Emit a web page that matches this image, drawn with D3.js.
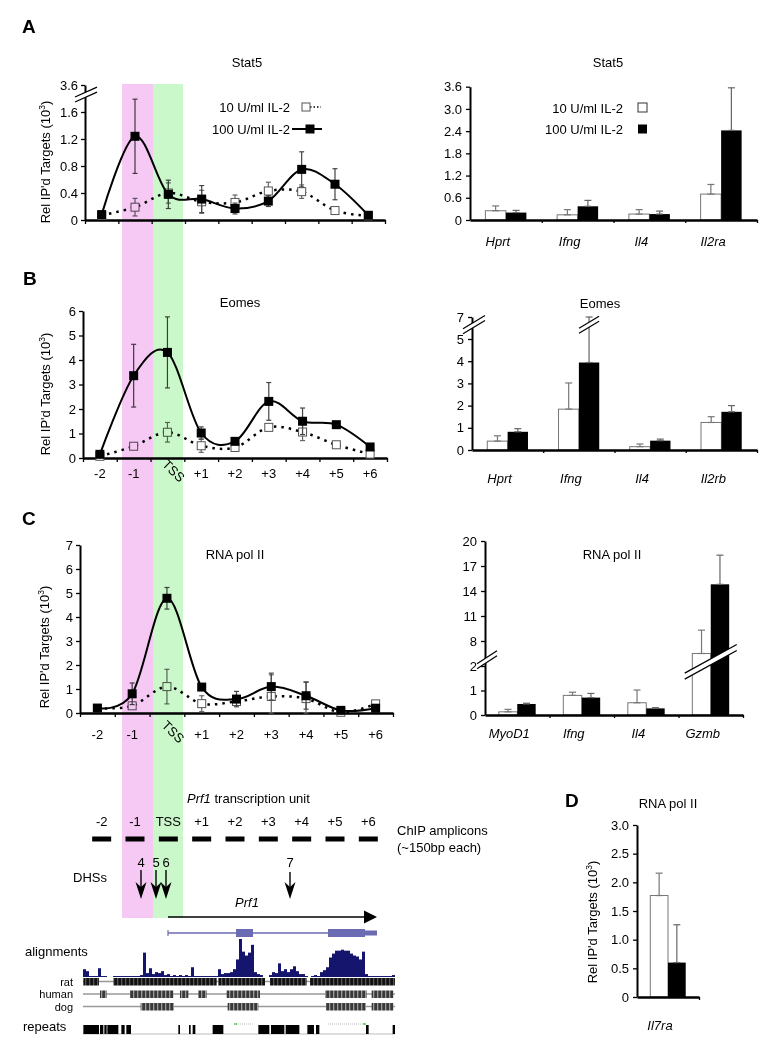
<!DOCTYPE html>
<html><head><meta charset="utf-8">
<script src="https://cdn.jsdelivr.net/npm/d3@7/dist/d3.min.js"></script>
<style>
body{margin:0;background:#fff;}
svg{font-family:Arial,"Liberation Sans",Helvetica,sans-serif;}
</style></head><body>
<svg id="fig" width="777" height="1050"></svg>
<script>
// ================= DATA =================
const amplicons = ["-2","-1","TSS","+1","+2","+3","+4","+5","+6"];
const seriesNames = ["10  U/ml IL-2", "100 U/ml IL-2"];

// Panel A (left) Stat5 ChIP across Prf1
const stat5Low     = [0.07,0.19,0.40,0.27,0.26,0.43,0.42,0.14,0.06];
const stat5LowErr  = [0.00,0.13,0.15,0.17,0.11,0.13,0.10,0.04,0.00];
const stat5High    = [0.08,1.24,0.38,0.31,0.17,0.28,0.75,0.53,0.07];
const stat5HighErr = [0.02,0.55,0.21,0.20,0.08,0.08,0.26,0.23,0.02];
const stat5Ticks   = [0,0.4,0.8,1.2,1.6,3.6];

// Panel B (left) Eomes
const eomesLow     = [0.07,0.48,1.05,0.50,0.43,1.25,1.06,0.54,0.16];
const eomesLowErr  = [0.03,0.05,0.40,0.27,0.10,0.10,0.35,0.05,0.05];
const eomesHigh    = [0.15,3.36,4.31,1.02,0.68,2.31,1.50,1.36,0.45];
const eomesHighErr = [0.05,1.28,1.45,0.25,0.10,0.77,0.54,0.08,0.10];
const eomesTicks   = [0,1,2,3,4,5,6];

// Panel C (left) RNA pol II
const polLow       = [0.20,0.30,1.10,0.39,0.48,0.69,0.60,0.03,0.38];
const polLowErr    = [0.05,0.10,0.72,0.33,0.15,0.90,0.70,0.05,0.08];
const polHigh      = [0.20,0.80,4.78,1.08,0.58,1.10,0.72,0.11,0.20];
const polHighErr   = [0.05,0.45,0.45,0.05,0.32,0.56,0.56,0.05,0.05];
const polTicks     = [0,1,2,3,4,5,6,7];

// Panel A (right) Stat5 control genes
const stat5Genes      = ["Hprt","Ifng","Il4","Il2ra"];
const stat5BarLow     = [0.25,0.14,0.16,0.70];
const stat5BarLowErr  = [0.13,0.14,0.12,0.26];
const stat5BarHigh    = [0.20,0.37,0.16,2.42];
const stat5BarHighErr = [0.06,0.16,0.08,1.15];
const stat5BarTicks   = [0,0.6,1.2,1.8,2.4,3.0,3.6];

// Panel B (right) Eomes control genes
const eomesGenes      = ["Hprt","Ifng","Il4","Il2rb"];
const eomesBarLow     = [0.40,1.84,0.15,1.24];
const eomesBarLowErr  = [0.24,1.18,0.12,0.26];
const eomesBarHigh    = [0.82,3.94,0.42,1.72];
const eomesBarHighErr = [0.14,3.06,0.07,0.28];
const eomesBarTicks   = [0,1,2,3,4,5,7];

// Panel C (right) RNA pol II control genes
const polGenes      = ["MyoD1","Ifng","Il4","Gzmb"];
const polBarLow     = [0.13,0.80,0.50,5.0];
const polBarLowErr  = [0.10,0.13,0.52,4.3];
const polBarHigh    = [0.45,0.71,0.27,14.8];
const polBarHighErr = [0.03,0.17,0.03,3.5];
const polBarTicks   = [0,1,2,8,11,14,17,20];

// Panel D RNA pol II on Il7ra
const il7Genes   = ["Il7ra"];
const il7Low     = [1.77];
const il7LowErr  = [0.39];
const il7High    = [0.60];
const il7HighErr = [0.66];
const il7Ticks   = [0,0.5,1.0,1.5,2.0,2.5,3.0];

// Prf1 locus (bp from left edge of displayed window)
const highlightRegions = [{name:"-1", start:780, end:1400}, {name:"TSS", start:1400, end:2000}];
const dhsNames = ["4","5","6","7"];
const dhsPos   = [1160,1460,1660,4140];
const geneStart = 1700, geneEnd = 5880;
const exons = [[3060,3400],[4900,5640]];
const utr3  = [5640,5880];
const conservation = [8,6,1,1,1,9,1,1,0,0, 1,1,1,1,1,1,1,1,1,2, 25,4,9,3,5,4,6,2,3,1,
  2,1,2,1,2,1,10,1,1,1, 1,1,1,1,1,8,3,4,4,5, 8,18,39,26,22,25,33,5,3,2,
  0,0,2,5,4,14,6,8,5,8, 11,6,3,3,1,0,1,2,1,5, 7,10,20,24,27,27,28,27,27,24,
  22,21,18,26,3,1,1,1,1,1, 1,1,1,2];
const binBp = 60;
const ratBlocks   = [[7,320],[607,2673],[2707,3640],[3740,4473],[4540,6240]];
const humanBlocks = [[340,473],[940,1807],[1940,2107],[2307,2473],[2873,3540],[4840,5673],[5773,6207]];
const dogBlocks   = [[1153,1820],[2893,3507],[4860,5660],[5773,6207]];
const repeatBlocks = [[7,320],[340,407],[427,473],[487,707],[767,833],[867,960],[1907,1940],[2120,2153],
  [2193,2247],[2593,2807],[3507,3727],[3760,4027],[4053,4327],[4487,4620],[4660,4727],[5660,5713],[6193,6240]];

// ================= DRAWING =================
const svg = d3.select("#fig");
const defs = svg.append("defs");

function txt(x,y,s,o={}){
  const t = svg.append("text").attr("x",x).attr("y",y).text(s)
    .attr("font-size",o.size||13).attr("text-anchor",o.anchor||"start").attr("fill","#000");
  if(o.italic) t.attr("font-style","italic");
  if(o.bold) t.attr("font-weight","bold");
  if(o.rotate!=null) t.attr("transform",`rotate(${o.rotate},${x},${y})`);
  return t;
}
function yLabel(cx,cy){
  const t = svg.append("text").attr("x",cx).attr("y",cy).attr("dy","0.35em")
    .attr("font-size",13).attr("text-anchor","middle")
    .attr("transform",`rotate(-90,${cx},${cy})`);
  t.append("tspan").text("Rel IP'd Targets (10");
  t.append("tspan").attr("dy",-5).attr("font-size",8.5).text("3");
  t.append("tspan").attr("dy",5).text(")");
}
function styleAxis(g, w){
  g.attr("font-family",null).attr("font-size",13);
  g.selectAll("path.domain").attr("stroke","#000").attr("stroke-width",w||2);
  g.selectAll(".tick line").attr("stroke","#000").attr("stroke-width",1.3);
  g.selectAll(".tick text").attr("fill","#000");
}
const fmt1 = d => d===0 ? "0" : d3.format(".1f")(d);
function errBar(g,x,y1,y2,color,cap){
  g.append("line").attr("x1",x).attr("x2",x).attr("y1",y1).attr("y2",y2).attr("stroke",color).attr("stroke-width",1.2);
  [y1,y2].forEach(yy=>{ if(yy==null) return;
    g.append("line").attr("x1",x-cap/2).attr("x2",x+cap/2).attr("y1",yy).attr("y2",yy).attr("stroke",color).attr("stroke-width",1.2);});
}
function breakMark(cx,cy,hw,slope,gap){
  const x1=cx-hw, x2=cx+hw, f=(x,o)=>cy+o+slope*(x-cx);
  svg.append("path").attr("d",`M${x1},${f(x1,-gap/2)}L${x2},${f(x2,-gap/2)}L${x2},${f(x2,gap/2)}L${x1},${f(x1,gap/2)}Z`).attr("fill","#fff");
  [-gap/2,gap/2].forEach(o=>svg.append("line").attr("x1",x1).attr("y1",f(x1,o)).attr("x2",x2).attr("y2",f(x2,o)).attr("stroke","#000").attr("stroke-width",1.2));
}

function linePanel(c){
  const x = d3.scaleBand().domain(amplicons).range([c.x0,c.x1]);
  const cx = d => x(d)+x.bandwidth()/2;
  const y = d3.scaleLinear().domain(c.yDomain).range(c.yRange);
  const g = svg.append("g");
  const ya = g.append("g").attr("transform",`translate(${c.x0},0)`)
    .call(d3.axisLeft(y).tickValues(c.ticks).tickFormat(c.fmt).tickSize(4).tickSizeOuter(0).tickPadding(3));
  styleAxis(ya,2);
  const edges = d3.scaleLinear().domain([0,amplicons.length]).range([c.x0,c.x1]);
  const xa = g.append("g").attr("transform",`translate(0,${y(0)})`)
    .call(d3.axisBottom(edges).tickValues(d3.range(0,amplicons.length+1)).tickFormat("").tickSize(4).tickSizeOuter(0));
  styleAxis(xa,2.5);
  if(c.labelY){
    amplicons.forEach(a=>{
      if(a==="TSS") txt(cx(a)+3,c.labelY-4,a,{anchor:"middle",rotate:45});
      else txt(cx(a),c.labelY,a,{anchor:"middle"});
    });
  }
  const line = d3.line().x((d,i)=>cx(amplicons[i])).y(d=>y(d)).curve(d3.curveCardinal.tension(0));
  // low series (10 U/ml)
  g.append("path").datum(c.low).attr("d",line).attr("fill","none").attr("stroke","#000")
    .attr("stroke-width",2.5).attr("stroke-dasharray","2.5,5");
  c.low.forEach((v,i)=>{ if(c.lowErr[i]>0) errBar(g,cx(amplicons[i]),y(v+c.lowErr[i]),y(Math.max(v-c.lowErr[i],c.yDomain[0])),"#666",5);});
  c.low.forEach((v,i)=>g.append("rect").attr("x",cx(amplicons[i])-4).attr("y",y(v)-4).attr("width",8).attr("height",8)
    .attr("fill","#fff").attr("stroke","#555").attr("stroke-width",1));
  // high series (100 U/ml)
  g.append("path").datum(c.high).attr("d",line).attr("fill","none").attr("stroke","#000").attr("stroke-width",2);
  c.high.forEach((v,i)=>{ if(c.highErr[i]>0) errBar(g,cx(amplicons[i]),y(v+c.highErr[i]),y(v-c.highErr[i]),"#444",5);});
  c.high.forEach((v,i)=>g.append("rect").attr("x",cx(amplicons[i])-4.5).attr("y",y(v)-4.5).attr("width",9).attr("height",9).attr("fill","#000"));
  txt(c.titleX,c.titleY,c.title,{anchor:"middle"});
  yLabel(c.ylabX,c.ylabY);
  return {x,y};
}

function barPanel(c){
  const x = d3.scaleBand().domain(c.genes).range([c.x0,c.x1]);
  const xs = d3.scaleBand().domain(["low","high"]).range([0,x.bandwidth()]).paddingOuter(0.75);
  const y = d3.scaleLinear().domain(c.yDomain).range(c.yRange);
  const g = svg.append("g");
  const ya = g.append("g").attr("transform",`translate(${c.x0},0)`)
    .call(d3.axisLeft(y).tickValues(c.ticks).tickFormat(c.fmt).tickSize(4).tickSizeOuter(0).tickPadding(4));
  styleAxis(ya,2);
  c.genes.forEach((gn,i)=>{
    const xl = x(gn)+xs("low"), xh = x(gn)+xs("high"), w = xs.bandwidth();
    g.append("rect").attr("x",xl).attr("y",y(c.low[i])).attr("width",w).attr("height",y(0)-y(c.low[i]))
      .attr("fill","#fff").attr("stroke","#777").attr("stroke-width",1);
    errBar(g,xl+w/2,y(c.low[i]+c.lowErr[i]),y(c.low[i]),"#777",7);
    g.append("rect").attr("x",xh).attr("y",y(c.high[i])).attr("width",w).attr("height",y(0)-y(c.high[i])).attr("fill","#000");
    errBar(g,xh+w/2,y(c.high[i]+c.highErr[i]),y(c.high[i]),"#666",7);
    txt(x(gn)+x.bandwidth()/2-8,c.labelY,gn,{anchor:"middle",italic:true});
  });
  const edges = d3.scaleLinear().domain([0,c.genes.length]).range([c.x0,c.x1]);
  const xa = g.append("g").attr("transform",`translate(0,${y(0)})`)
    .call(d3.axisBottom(edges).tickValues(d3.range(1,c.genes.length+1)).tickFormat("").tickSize(3).tickSizeOuter(0));
  styleAxis(xa,2.5);
  if(c.title) txt(c.titleX,c.titleY,c.title,{anchor:"middle"});
  return {x,xs,y};
}

// ---- Panel letters
txt(22,33,"A",{size:19,bold:true});
txt(23,285,"B",{size:19,bold:true});
txt(22,525,"C",{size:19,bold:true});
txt(565,807,"D",{size:19,bold:true});

// ---- A left
const pA = linePanel({x0:85,x1:385,yDomain:[0,1.85,3.6],yRange:[220,220-1.85*67.5,85],ticks:stat5Ticks,fmt:fmt1,
  low:stat5Low,lowErr:stat5LowErr,high:stat5High,highErr:stat5HighErr,
  title:"Stat5",titleX:247,titleY:67,ylabX:45,ylabY:162});
breakMark(86,pA.y(1.95),11,-0.45,5);
// legend A left
txt(290,112,seriesNames[0],{anchor:"end"});
txt(290,134,seriesNames[1],{anchor:"end"});
svg.append("line").attr("x1",310).attr("x2",321).attr("y1",107).attr("y2",107).attr("stroke","#000").attr("stroke-width",1.5).attr("stroke-dasharray","1.5,2");
svg.append("rect").attr("x",302).attr("y",103).attr("width",8).attr("height",8).attr("fill","#fff").attr("stroke","#555");
svg.append("line").attr("x1",292).attr("x2",322).attr("y1",129).attr("y2",129).attr("stroke","#000").attr("stroke-width",2);
svg.append("rect").attr("x",305.5).attr("y",124.5).attr("width",9).attr("height",9).attr("fill","#000");

// ---- A right
barPanel({genes:stat5Genes,x0:470,x1:757,yDomain:[0,3.6],yRange:[220,86.7],ticks:stat5BarTicks,fmt:fmt1,
  low:stat5BarLow,lowErr:stat5BarLowErr,high:stat5BarHigh,highErr:stat5BarHighErr,labelY:246,
  title:"Stat5",titleX:608,titleY:67});
txt(623,113,seriesNames[0],{anchor:"end"});
txt(623,134,seriesNames[1],{anchor:"end"});
svg.append("rect").attr("x",638).attr("y",103).attr("width",9).attr("height",9).attr("fill","#fff").attr("stroke","#333");
svg.append("rect").attr("x",638).attr("y",124.5).attr("width",9).attr("height",9).attr("fill","#000");

// ---- B left
linePanel({x0:83,x1:387,yDomain:[0,6],yRange:[458,311],ticks:eomesTicks,fmt:d3.format("d"),
  low:eomesLow,lowErr:eomesLowErr,high:eomesHigh,highErr:eomesHighErr,labelY:478,
  title:"Eomes",titleX:240,titleY:307,ylabX:45,ylabY:394});

// ---- B right
const pBr = barPanel({genes:eomesGenes,x0:472,x1:757,yDomain:[0,5,7],yRange:[450,339,317],ticks:eomesBarTicks,fmt:d3.format("d"),
  low:eomesBarLow,lowErr:eomesBarLowErr,high:eomesBarHigh,highErr:eomesBarHighErr,labelY:483,
  title:"Eomes",titleX:600,titleY:308});
breakMark(474,pBr.y(6.3),11,-0.6,5);
breakMark(pBr.x("Ifng")+pBr.xs("high")+pBr.xs.bandwidth()/2,pBr.y(6.3),10,-0.6,5);

// ---- C left
linePanel({x0:80,x1:393,yDomain:[0,7],yRange:[713,545],ticks:polTicks,fmt:d3.format("d"),
  low:polLow,lowErr:polLowErr,high:polHigh,highErr:polHighErr,labelY:739,
  title:"RNA pol II",titleX:235,titleY:559,ylabX:44,ylabY:647});

// ---- C right
const pCr = barPanel({genes:polGenes,x0:485,x1:743,yDomain:[0,2,8,20],yRange:[715,666,641,541],ticks:polBarTicks,fmt:d3.format("d"),
  low:polBarLow,lowErr:polBarLowErr,high:polBarHigh,highErr:polBarHighErr,labelY:738,
  title:"RNA pol II",titleX:612,titleY:559});
breakMark(487,pCr.y(3.5),10,-0.65,5);
breakMark(pCr.x("Gzmb")+pCr.x.bandwidth()/2,pCr.y(3.0),26,-0.55,6);

// ---- D
barPanel({genes:il7Genes,x0:637,x1:699,yDomain:[0,3],yRange:[997,825],ticks:il7Ticks,fmt:fmt1,
  low:il7Low,lowErr:il7LowErr,high:il7High,highErr:il7HighErr,labelY:1030,
  title:"RNA pol II",titleX:668,titleY:808});
yLabel(592,922);

// ---- Prf1 locus schematic
const gx = d3.scaleLinear().domain([0,6240]).range([83,395]);
const ampX = d3.scaleBand().domain(amplicons).range([85,385]);
const tu = svg.append("text").attr("x",187).attr("y",803).attr("font-size",13);
tu.append("tspan").attr("font-style","italic").text("Prf1");
tu.append("tspan").text(" transcription unit");
amplicons.forEach(a=>{
  const c = ampX(a)+ampX.bandwidth()/2;
  txt(c,826,a,{anchor:"middle"});
  svg.append("rect").attr("x",c-9.5).attr("y",836.5).attr("width",19).attr("height",5).attr("fill","#000");
});
txt(397,835,"ChIP amplicons");
txt(397,852,"(~150bp each)");
txt(73,882,"DHSs");
dhsNames.forEach((n,i)=>{
  const x = gx(dhsPos[i]);
  txt(x,867,n,{anchor:"middle"});
  svg.append("line").attr("x1",x).attr("x2",x).attr("y1",i===3?872:870).attr("y2",892).attr("stroke","#000").attr("stroke-width",1.4);
  svg.append("path").attr("d",`M${x},899L${x-5.5},882L${x},887L${x+5.5},882Z`).attr("fill","#000");
});
// Prf1 arrow
svg.append("line").attr("x1",gx(geneStart)).attr("x2",gx(geneEnd)-10).attr("y1",917).attr("y2",917).attr("stroke","#000").attr("stroke-width",1.6);
svg.append("path").attr("d",`M${gx(geneEnd)},917L${gx(geneEnd)-13},910.5L${gx(geneEnd)-13},923.5Z`).attr("fill","#000");
txt(247,907,"Prf1",{anchor:"middle",italic:true});
// gene model
const geneCol = "#6b6bb3";
svg.append("line").attr("x1",gx(geneStart)).attr("x2",gx(geneEnd)).attr("y1",933).attr("y2",933).attr("stroke",geneCol).attr("stroke-width",1.4);
svg.append("line").attr("x1",gx(geneStart)).attr("x2",gx(geneStart)).attr("y1",930).attr("y2",936).attr("stroke",geneCol).attr("stroke-width",1.2);
exons.forEach(e=>svg.append("rect").attr("x",gx(e[0])).attr("y",929).attr("width",gx(e[1])-gx(e[0])).attr("height",8).attr("fill",geneCol));
svg.append("rect").attr("x",gx(utr3[0])).attr("y",930.5).attr("width",gx(utr3[1])-gx(utr3[0])).attr("height",5).attr("fill",geneCol);
// alignments histogram
txt(25,956,"alignments");
const hy = d3.scaleLinear().domain([0,40]).range([977,938]);
conservation.forEach((v,i)=>{ if(v<=0) return;
  svg.append("rect").attr("x",gx(i*binBp)).attr("y",hy(v)).attr("width",gx(binBp)-gx(0)).attr("height",977-hy(v)).attr("fill","#15156e");
});
// species tracks
function stripes(id,c1,c2){
  const p = defs.append("pattern").attr("id",id).attr("patternUnits","userSpaceOnUse").attr("width",4).attr("height",10);
  p.append("rect").attr("width",4).attr("height",10).attr("fill",c1);
  p.append("rect").attr("x",1).attr("width",1.3).attr("height",10).attr("fill",c2);
}
stripes("ratS","#111","#555");
stripes("hdS","#3a3a3a","#9a9a9a");
const tracks = [{name:"rat",blocks:ratBlocks,y:978,fill:"url(#ratS)",ly:985.5},
                {name:"human",blocks:humanBlocks,y:990.5,fill:"url(#hdS)",ly:998},
                {name:"dog",blocks:dogBlocks,y:1003,fill:"url(#hdS)",ly:1010.5}];
tracks.forEach(t=>{
  svg.append("line").attr("x1",gx(0)).attr("x2",gx(6240)).attr("y1",t.y+3.5).attr("y2",t.y+3.5).attr("stroke","#999").attr("stroke-width",1.5);
  t.blocks.forEach(b=>svg.append("rect").attr("x",gx(b[0])).attr("y",t.y).attr("width",gx(b[1])-gx(b[0])).attr("height",7.5).attr("fill",t.fill));
  txt(73,t.ly,t.name,{anchor:"end",size:11});
});
// repeats
txt(23,1031,"repeats");
svg.append("line").attr("x1",gx(0)).attr("x2",gx(6240)).attr("y1",1034).attr("y2",1034).attr("stroke","#bbb").attr("stroke-width",1);
repeatBlocks.forEach(b=>svg.append("rect").attr("x",gx(b[0])).attr("y",1025).attr("width",Math.max(1.5,gx(b[1])-gx(b[0]))).attr("height",9).attr("fill","#000"));
exons.forEach(e=>{
  svg.append("line").attr("x1",gx(e[0])).attr("x2",gx(e[1])).attr("y1",1024).attr("y2",1024).attr("stroke","#aaa").attr("stroke-width",0.8).attr("stroke-dasharray","1,1");
});
[[3020,3080],[5600,5660]].forEach(s=>svg.append("line").attr("x1",gx(s[0])).attr("x2",gx(s[1])).attr("y1",1024).attr("y2",1024).attr("stroke","#2c2").attr("stroke-width",1.2));

// ---- highlight bands (overlay, multiply)
const bandCols = ["#f5c9f4","#cbf8cb"];
highlightRegions.forEach((r,i)=>{
  svg.append("rect").attr("x",gx(r.start)).attr("y",84).attr("width",gx(r.end)-gx(r.start)).attr("height",918-84)
    .attr("fill",bandCols[i]).style("mix-blend-mode","multiply");
});
</script>
</body></html>
